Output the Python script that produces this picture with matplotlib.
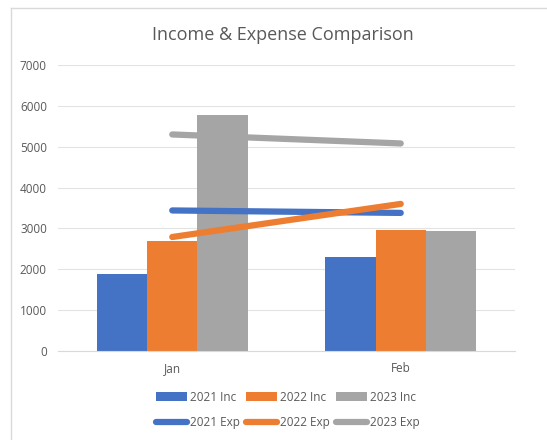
import matplotlib.pyplot as plt
import numpy as np
from matplotlib.lines import Line2D

months = ["Jan", "Feb"]
inc_2021 = [1890, 2310]
inc_2022 = [2700, 2950]
inc_2023 = [5770, 2930]
exp_2021 = [3440, 3380]
exp_2022 = [2790, 3600]
exp_2023 = [5300, 5080]

blue = "#4472C4"
orange = "#ED7D31"
gray = "#A5A5A5"
text_col = "#595959"

plt.rcParams['font.family'] = ['Open Sans', 'DejaVu Sans']

fig = plt.figure(figsize=(5.47, 4.4), dpi=100)
ax = fig.add_axes([58/547, 1-351/440, (515-58)/547, (351-65)/440])

# chart border, only left and top show in the reference
fig.add_artist(Line2D([11/547, 11/547], [0, 1-8/440], transform=fig.transFigure,
                      color="#D9D9D9", lw=1))
fig.add_artist(Line2D([11/547, 1], [1-8/440, 1-8/440], transform=fig.transFigure,
                      color="#D9D9D9", lw=1))

x = np.arange(len(months))
w = 0.22
b1 = ax.bar(x - w, inc_2021, w, color=blue, label="2021 Inc", zorder=2)
b2 = ax.bar(x, inc_2022, w, color=orange, label="2022 Inc", zorder=2)
b3 = ax.bar(x + w, inc_2023, w, color=gray, label="2023 Inc", zorder=2)
l1, = ax.plot(x, exp_2021, color=blue, lw=4.5, solid_capstyle="round", label="2021 Exp", zorder=3)
l2, = ax.plot(x, exp_2022, color=orange, lw=4.5, solid_capstyle="round", label="2022 Exp", zorder=3)
l3, = ax.plot(x, exp_2023, color=gray, lw=4.5, solid_capstyle="round", label="2023 Exp", zorder=3)

ax.set_xlim(-0.5, 1.5)
ax.set_ylim(0, 7000)
ax.set_yticks(range(0, 7001, 1000))
ax.set_xticks(x)
ax.set_xticklabels(months)
ax.grid(axis="y", color="#E3E3E3", linewidth=0.8, zorder=0)
for s in ["top", "right", "left"]:
    ax.spines[s].set_visible(False)
ax.spines["bottom"].set_color("#D9D9D9")
ax.tick_params(length=0, labelsize=8.5, colors=text_col)
ax.tick_params(axis="x", pad=8)
ax.tick_params(axis="y", pad=8)

fig.text(283/547, 1-35/440, "Income & Expense Comparison", ha="center", va="center",
         fontsize=13, color=text_col)

fig.legend(handles=[b1, l1, b2, l2, b3, l3], ncol=3, loc="center",
           bbox_to_anchor=(288/547, 1-410/440), frameon=False, fontsize=8.5,
           labelcolor=text_col, handlelength=2.6, handleheight=0.9, handletextpad=0.3,
           columnspacing=0.5, labelspacing=1.1)

fig.savefig("out.png", dpi=100)
